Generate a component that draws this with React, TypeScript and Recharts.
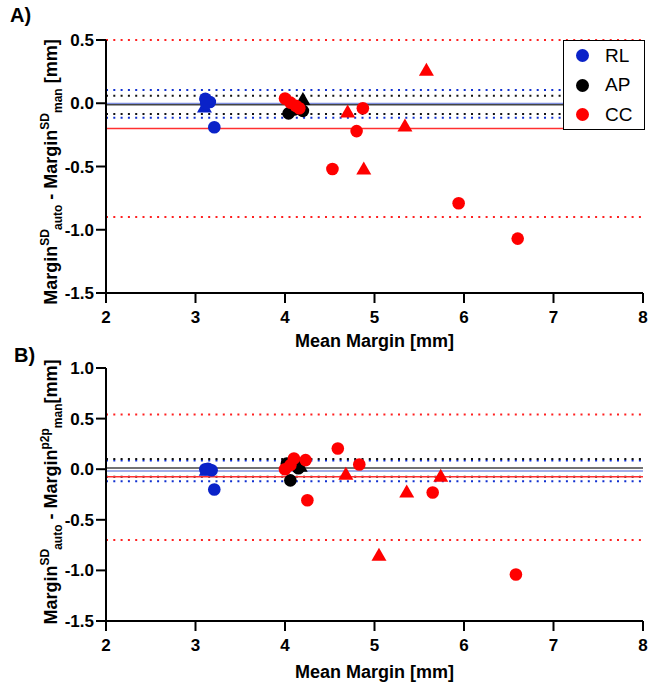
import { ScatterChart, Scatter, XAxis, YAxis, ReferenceLine, Legend } from 'recharts';

const FONT = "'Liberation Sans', Arial, Helvetica, sans-serif";

// tick values
const xTicks = [2, 3, 4, 5, 6, 7, 8];
const yTicksA = [0.5, 0, -0.5, -1, -1.5];
const yTicksB = [1, 0.5, 0, -0.5, -1, -1.5];

// legend entries (RL, AP, CC)
const groupNames = ['RL', 'AP', 'CC'];

// Panel A points
const rlCircA = [
  { x: 3.11, y: 0.035 },
  { x: 3.16, y: 0.01 },
  { x: 3.12, y: 0.0 },
  { x: 3.21, y: -0.19 },
];
const rlTriA = [{ x: 3.1, y: -0.03 }];
const apCircA = [
  { x: 4.04, y: -0.08 },
  { x: 4.1, y: -0.05 },
  { x: 4.2, y: -0.06 },
  { x: 4.15, y: -0.03 },
];
const apTriA = [{ x: 4.2, y: 0.03 }];
const ccCircA = [
  { x: 4.0, y: 0.037 },
  { x: 4.06, y: 0.005 },
  { x: 4.12, y: -0.02 },
  { x: 4.16, y: -0.04 },
  { x: 4.87, y: -0.04 },
  { x: 4.8, y: -0.22 },
  { x: 4.53, y: -0.52 },
  { x: 5.94, y: -0.79 },
  { x: 6.6, y: -1.07 },
];
const ccTriA = [
  { x: 4.7, y: -0.07 },
  { x: 5.58, y: 0.26 },
  { x: 5.34, y: -0.18 },
  { x: 4.88, y: -0.52 },
];

// Panel B points
const rlCircB = [
  { x: 3.11, y: 0.0 },
  { x: 3.14, y: 0.005 },
  { x: 3.18, y: -0.01 },
  { x: 3.21, y: -0.2 },
];
const rlTriB = [{ x: 3.12, y: -0.01 }];
const apCircB = [
  { x: 4.06, y: -0.11 },
  { x: 4.14, y: 0.055 },
  { x: 4.02, y: 0.055 },
  { x: 4.15, y: 0.01 },
];
const apTriB = [{ x: 4.17, y: 0.03 }];
const ccCircB = [
  { x: 4.0, y: 0.0 },
  { x: 4.06, y: 0.04 },
  { x: 4.1, y: 0.105 },
  { x: 4.23, y: 0.09 },
  { x: 4.59, y: 0.205 },
  { x: 4.83, y: 0.047 },
  { x: 4.25, y: -0.307 },
  { x: 5.65, y: -0.23 },
  { x: 6.58, y: -1.04 },
];
const ccTriB = [
  { x: 4.68, y: -0.05 },
  { x: 5.36, y: -0.225 },
  { x: 5.74, y: -0.07 },
  { x: 5.05, y: -0.85 },
];

// bias and limits of agreement, order RL, AP, CC
const meanA = [-0.002, -0.012, -0.2];
const upperA = [0.105, 0.06, 0.5];
const lowerA = [-0.115, -0.085, -0.9];
const meanB = [-0.017, 0.013, -0.075];
const upperB = [0.085, 0.1, 0.54];
const lowerB = [-0.12, -0.075, -0.7];

const markerColors = ['#0a22c8', '#000000', '#ff0000'];
const meanColors = ['#8090e0', '#444444', '#ff3030'];
const dotColors = ['#1030d0', '#111111', '#ff2020'];

const circle = (color: string) => (p: any) => (
  <circle cx={p.cx} cy={p.cy} r={6.3} fill={color} />
);
const triangle = (color: string) => (p: any) => (
  <path
    d={`M${p.cx},${p.cy - 7.5}L${p.cx + 7.5},${p.cy + 5.5}L${p.cx - 7.5},${p.cy + 5.5}Z`}
    fill={color}
  />
);

function LegendBox() {
  return (
    <div
      style={{
        width: 82,
        height: 90,
        boxSizing: 'border-box',
        border: '1.5px solid #000',
        background: '#fff',
        fontFamily: FONT,
        fontSize: 19,
      }}
    >
      {groupNames.map((n, i) => (
        <div key={n} style={{ height: 29.5, display: 'flex', alignItems: 'center' }}>
          <span
            style={{
              display: 'inline-block',
              width: 13,
              height: 13,
              borderRadius: '50%',
              background: markerColors[i],
              marginLeft: 12,
              marginRight: 16,
            }}
          />
          <span>{n}</span>
        </div>
      ))}
    </div>
  );
}

type PanelProps = {
  top: number;
  height: number;
  margin: { top: number; right: number; bottom: number; left: number };
  yDomain: [number, number];
  yTicks: number[];
  means: number[];
  upper: number[];
  lower: number[];
  series: { rl: any[]; rlT: any[]; ap: any[]; apT: any[]; cc: any[]; ccT: any[] };
  tag: string;
  tagX: number;
  tagY: number;
  sup2: string;
  tail: string;
  labelCy: number;
  titleDy: number;
  legend?: boolean;
};

function Panel(props: PanelProps) {
  const { series } = props;
  const yLabel = () => (
    <g>
      <text x={props.tagX} y={props.tagY} fontFamily={FONT} fontWeight="bold" fontSize={20} fill="#000">
        {props.tag}
      </text>
      <text
        transform={`translate(57,${props.labelCy}) rotate(-90)`}
        textAnchor="middle"
        fontFamily={FONT}
        fontWeight="bold"
        fontSize={18}
        fill="#000"
      >
        <tspan>Margin</tspan>
        <tspan fontSize={12} dy={-8}>SD</tspan>
        <tspan fontSize={12} dy={13} dx={-1}>auto</tspan>
        <tspan dy={-5}>{' - Margin'}</tspan>
        <tspan fontSize={12} dy={-8}>{props.sup2}</tspan>
        <tspan fontSize={12} dy={13}>man</tspan>
        <tspan dy={-5}>{props.tail}</tspan>
      </text>
    </g>
  );
  const xLabel = (p: any) => {
    const vb = p.viewBox || { x: 106, y: 0, width: 537 };
    return (
      <text
        x={vb.x + vb.width / 2}
        y={vb.y + props.titleDy}
        textAnchor="middle"
        fontFamily={FONT}
        fontWeight="bold"
        fontSize={18}
        fill="#000"
      >
        Mean Margin [mm]
      </text>
    );
  };
  const tickStyle = { fill: '#000', fontSize: 17, fontWeight: 'bold', fontFamily: FONT };

  return (
    <div style={{ position: 'absolute', left: 0, top: props.top }}>
      <ScatterChart width={648} height={props.height} margin={props.margin}>
        <XAxis
          type="number"
          dataKey="x"
          domain={[2, 8]}
          ticks={xTicks}
          height={30}
          tickSize={10}
          tickMargin={8}
          axisLine={{ stroke: '#000', strokeWidth: 2 }}
          tickLine={{ stroke: '#000', strokeWidth: 2 }}
          tick={tickStyle}
          label={xLabel}
        />
        <YAxis
          type="number"
          dataKey="y"
          domain={props.yDomain}
          ticks={props.yTicks}
          width={60}
          tickSize={10}
          axisLine={{ stroke: '#000', strokeWidth: 2 }}
          tickLine={{ stroke: '#000', strokeWidth: 2 }}
          tick={tickStyle}
          tickFormatter={(v: number) => v.toFixed(1)}
          label={yLabel}
        />
        {props.upper.map((v, i) => (
          <ReferenceLine key={'u' + i} y={v} stroke={dotColors[i]} strokeWidth={2} strokeDasharray="2 5.3" />
        ))}
        {props.lower.map((v, i) => (
          <ReferenceLine key={'l' + i} y={v} stroke={dotColors[i]} strokeWidth={2} strokeDasharray="2 5.3" />
        ))}
        {props.means.map((v, i) => (
          <ReferenceLine key={'m' + i} y={v} stroke={meanColors[i]} strokeWidth={1.5} />
        ))}
        <Scatter data={series.rlT} shape={triangle(markerColors[0])} isAnimationActive={false} />
        <Scatter data={series.rl} shape={circle(markerColors[0])} isAnimationActive={false} />
        <Scatter data={series.apT} shape={triangle(markerColors[1])} isAnimationActive={false} />
        <Scatter data={series.ap} shape={circle(markerColors[1])} isAnimationActive={false} />
        <Scatter data={series.ccT} shape={triangle(markerColors[2])} isAnimationActive={false} />
        <Scatter data={series.cc} shape={circle(markerColors[2])} isAnimationActive={false} />
        {props.legend && (
          <Legend
            layout="horizontal"
            align="center"
            verticalAlign="middle"
            wrapperStyle={{ left: 563, top: 40, width: 82, height: 90 }}
            content={() => <LegendBox />}
          />
        )}
      </ScatterChart>
    </div>
  );
}

export default function App() {
  return (
    <div style={{ position: 'absolute', left: 0, top: 0, width: 648, height: 688, background: '#fff' }}>
      <Panel
        top={344}
        height={344}
        margin={{ top: 24, right: 5, bottom: 37, left: 46 }}
        yDomain={[-1.5, 1]}
        yTicks={yTicksB}
        means={meanB}
        upper={upperB}
        lower={lowerB}
        series={{ rl: rlCircB, rlT: rlTriB, ap: apCircB, apT: apTriB, cc: ccCircB, ccT: ccTriB }}
        tag="B)"
        tagX={14}
        tagY={18}
        sup2="p2p"
        tail="[mm]"
        labelCy={148}
        titleDy={57}
      />
      <Panel
        top={0}
        height={360}
        margin={{ top: 40, right: 5, bottom: 37, left: 46 }}
        yDomain={[-1.5, 0.5]}
        yTicks={yTicksA}
        means={meanA}
        upper={upperA}
        lower={lowerA}
        series={{ rl: rlCircA, rlT: rlTriA, ap: apCircA, apT: apTriA, cc: ccCircA, ccT: ccTriA }}
        tag="A)"
        tagX={10}
        tagY={22}
        sup2="SD"
        tail=" [mm]"
        labelCy={172}
        titleDy={54}
        legend
      />
    </div>
  );
}
